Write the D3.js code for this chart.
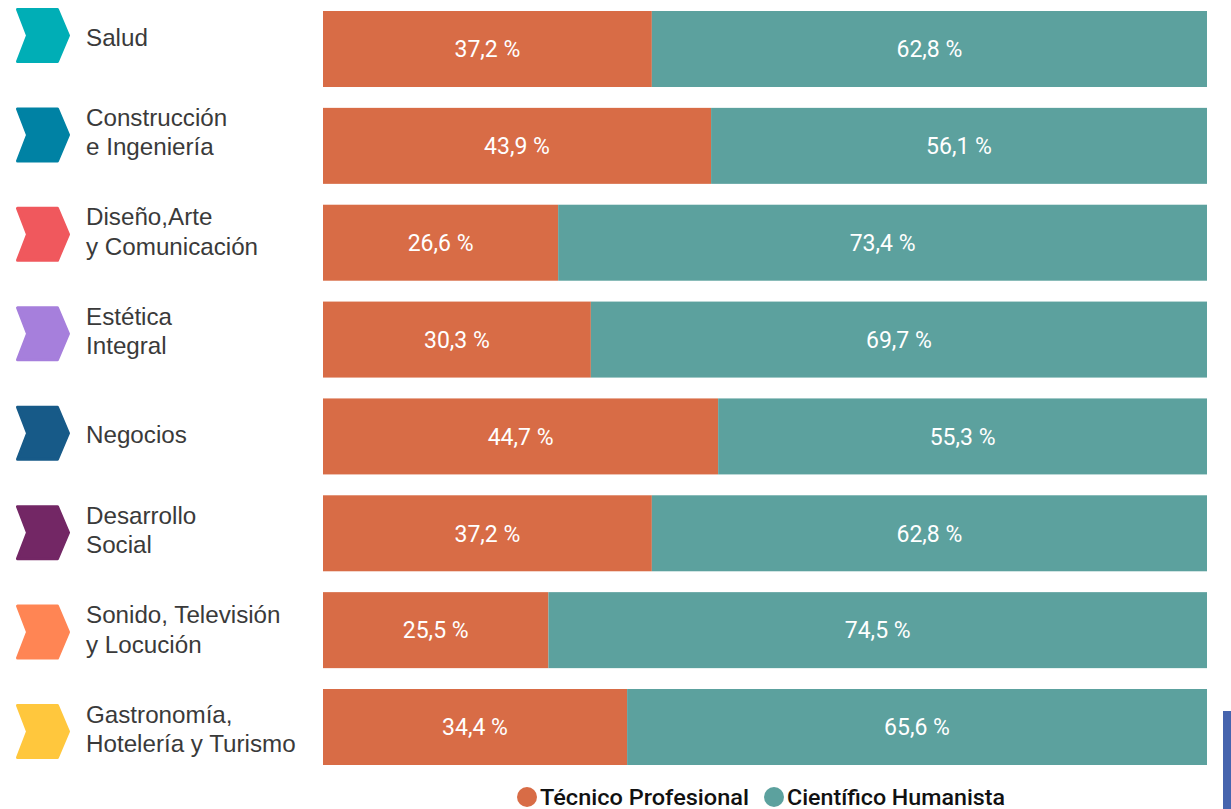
<!DOCTYPE html>
<html>
<head>
<meta charset="utf-8">
<script src="https://cdn.jsdelivr.net/npm/d3@7"></script>
<style>
  body { margin: 0; background: #fff; }
  svg { display: block; }
</style>
</head>
<body>
<div id="chart"></div>
<script>
// Areas (line breaks as in the original)
const categories = [
    "Salud",
    "Construcción\ne Ingeniería",
    "Diseño,Arte\ny Comunicación",
    "Estética\nIntegral",
    "Negocios",
    "Desarrollo\nSocial",
    "Sonido, Televisión\ny Locución",
    "Gastronomía,\nHotelería y Turismo"
];
const tecnico = [37.2, 43.9, 26.6, 30.3, 44.7, 37.2, 25.5, 34.4];
const cientifico = [62.8, 56.1, 73.4, 69.7, 55.3, 62.8, 74.5, 65.6];
const iconColors = ["#00AEB6", "#0082A4", "#F0585D", "#A67FDC", "#175A88", "#732765", "#FF8554", "#FFC73D"];
const seriesNames = ["Técnico Profesional", "Científico Humanista"];
const seriesColors = ["#D86C46", "#5CA19E"];

const width = 1231, height = 809;

const svg = d3.select("#chart")
    .append("svg")
    .attr("width", width)
    .attr("height", height);

// Scales
const x = d3.scaleLinear()
    .domain([0, 100])
    .range([323, 1207]);

const y = d3.scaleBand()
    .domain(categories)
    .range([11, 765])
    .paddingInner(0.2154)
    .paddingOuter(0);

// icons and labels sit on their own slightly wider grid
const yIcon = d3.scalePoint()
    .domain(categories)
    .range([35.5, 731.5]);

const fmt = v => d3.format(".1f")(v).replace(".", ",") + " %";

// Stacked bars
const rows = categories.map((c, i) => ({ cat: c, t: tecnico[i], c2: cientifico[i] }));

const bars = svg.selectAll(".row")
    .data(rows)
    .enter()
    .append("g")
    .attr("class", "row");

bars.append("rect")
    .attr("x", x(0))
    .attr("y", d => y(d.cat))
    .attr("width", d => x(d.t) - x(0))
    .attr("height", y.bandwidth())
    .attr("fill", seriesColors[0]);

bars.append("rect")
    .attr("x", d => x(d.t))
    .attr("y", d => y(d.cat))
    .attr("width", d => x(d.t + d.c2) - x(d.t))
    .attr("height", y.bandwidth())
    .attr("fill", seriesColors[1]);

bars.append("text")
    .attr("x", d => (x(0) + x(d.t)) / 2)
    .attr("y", d => y(d.cat) + y.bandwidth() / 2)
    .attr("dy", "0.36em")
    .attr("text-anchor", "middle")
    .attr("fill", "#fff")
    .attr("font-family", "Roboto, sans-serif")
    .attr("font-size", "23px")
    .text(d => fmt(d.t));

bars.append("text")
    .attr("x", d => (x(d.t) + x(d.t + d.c2)) / 2)
    .attr("y", d => y(d.cat) + y.bandwidth() / 2)
    .attr("dy", "0.36em")
    .attr("text-anchor", "middle")
    .attr("fill", "#fff")
    .attr("font-family", "Roboto, sans-serif")
    .attr("font-size", "23px")
    .text(d => fmt(d.c2));

// Chevron icons
const chevron = cy => `M17.5,${cy - 26}H57.5L68.5,${cy}L57.5,${cy + 26}H17.5L27.5,${cy}Z`;

svg.selectAll(".icon")
    .data(categories)
    .enter()
    .append("path")
    .attr("class", "icon")
    .attr("d", d => chevron(yIcon(d)))
    .attr("fill", (d, i) => iconColors[i])
    .attr("stroke", (d, i) => iconColors[i])
    .attr("stroke-width", 3)
    .attr("stroke-linejoin", "round");

// Category labels
const labels = svg.selectAll(".cat-label")
    .data(categories)
    .enter()
    .append("text")
    .attr("class", "cat-label")
    .attr("font-family", "'Liberation Sans', Arial, sans-serif")
    .attr("font-size", "24.2px")
    .attr("fill", "#3a3a3a");

labels.each(function(d) {
    const lines = d.split("\n");
    const cy = yIcon(d);
    const first = lines.length === 1 ? cy + 10 : cy - 9;
    d3.select(this).selectAll("tspan")
        .data(lines)
        .enter()
        .append("tspan")
        .attr("x", 86)
        .attr("y", (l, j) => first + j * 29.5)
        .text(l => l);
});

// Legend
const legendX = [527, 774];
const legendW = [209, 218];
const legend = svg.selectAll(".legend")
    .data(seriesNames)
    .enter()
    .append("g")
    .attr("class", "legend");

legend.append("circle")
    .attr("cx", (d, i) => legendX[i])
    .attr("cy", 797)
    .attr("r", 10)
    .attr("fill", (d, i) => seriesColors[i]);

legend.append("text")
    .attr("x", (d, i) => legendX[i] + 13)
    .attr("y", 805)
    .attr("font-family", "Roboto, sans-serif")
    .attr("font-weight", 500)
    .attr("font-size", "22px")
    .attr("fill", "#111")
    .attr("textLength", (d, i) => legendW[i])
    .attr("lengthAdjust", "spacingAndGlyphs")
    .text(d => d);

// Edge accent at bottom right
svg.append("rect")
    .attr("x", 1223)
    .attr("y", 711)
    .attr("width", 8)
    .attr("height", 98)
    .attr("fill", "#4664AE");
</script>
</body>
</html>
